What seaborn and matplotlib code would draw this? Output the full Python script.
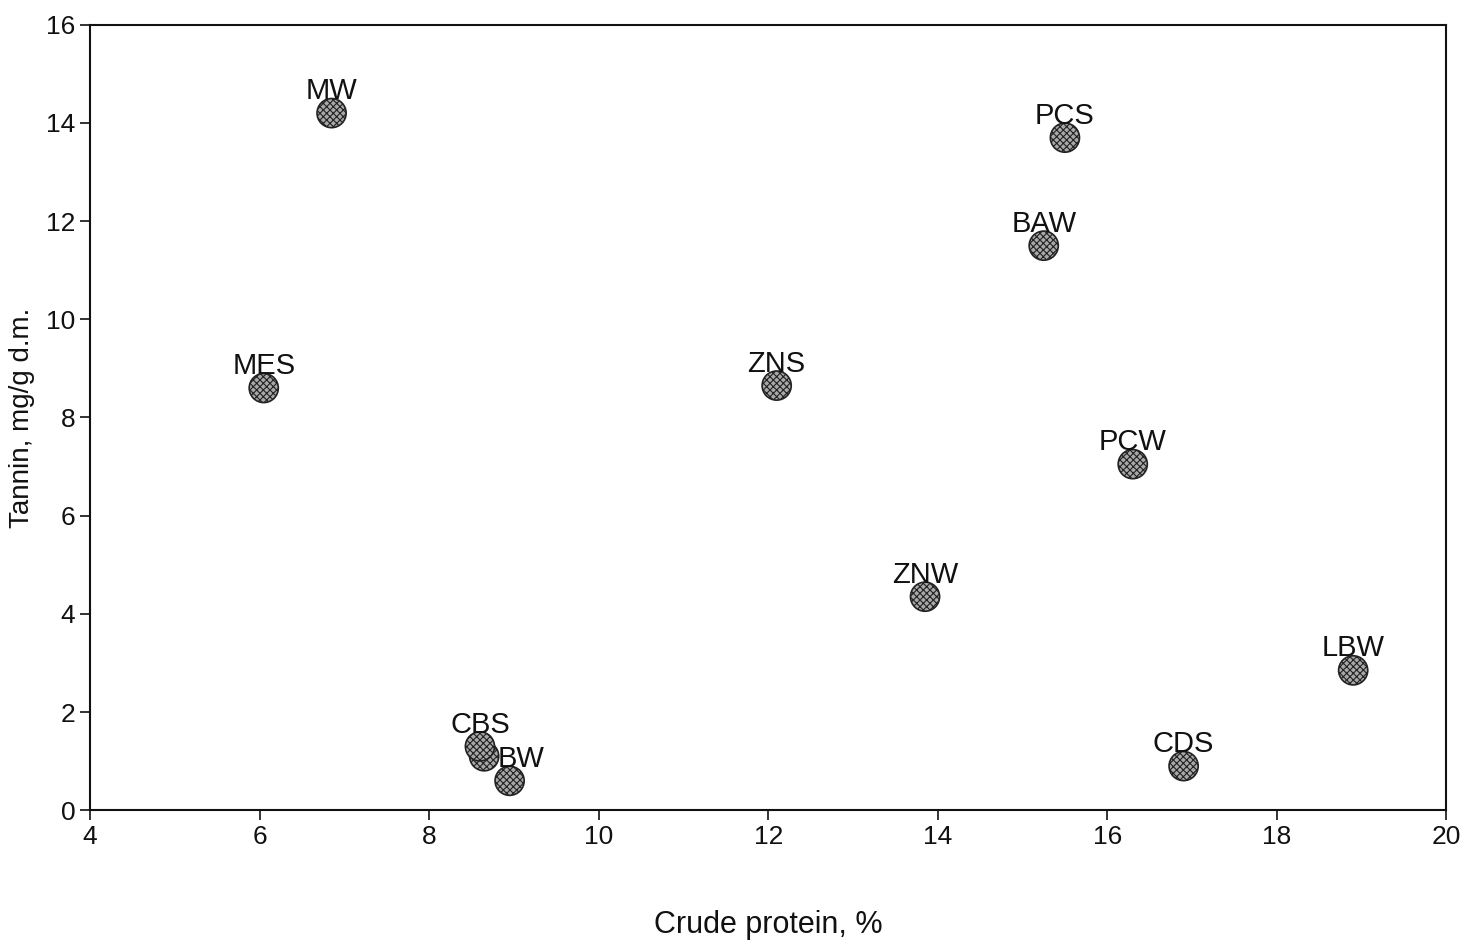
import matplotlib
matplotlib.use("Agg")
import matplotlib.pyplot as plt
import seaborn as sns
import pandas as pd

# Data
names = ["MW", "PCS", "BAW", "MES", "ZNS", "PCW", "ZNW", "LBW", "CBS", "", "BW", "CDS"]
crude_protein = [6.85, 15.5, 15.25, 6.05, 12.1, 16.3, 13.85, 18.9, 8.6, 8.65, 8.95, 16.9]
tannin = [14.2, 13.7, 11.5, 8.6, 8.65, 7.05, 4.35, 2.85, 1.3, 1.1, 0.6, 0.9]
x_ticks = [4, 6, 8, 10, 12, 14, 16, 18, 20]
y_ticks = [0, 2, 4, 6, 8, 10, 12, 14, 16]

df = pd.DataFrame({"name": names, "cp": crude_protein, "tannin": tannin})

sns.set_theme(style="white")
plt.rcParams["font.family"] = ["Liberation Sans", "DejaVu Sans"]
plt.rcParams["hatch.color"] = "#333333"
plt.rcParams["hatch.linewidth"] = 0.8

fig = plt.figure(figsize=(14.82, 9.51), dpi=100)
ax = fig.add_axes([0.0607, 0.148, 0.9153, 0.826])

# draw the hidden point first so CBS lies on top
order = [9] + [i for i in range(len(names)) if i != 9]
df_o = df.iloc[order]
sns.scatterplot(data=df_o, x="cp", y="tannin", ax=ax, s=440, color="#a8a8a8",
                edgecolor="#222222", linewidth=1.2, zorder=3, legend=False)
for coll in ax.collections:
    coll.set_hatch("xxxxx")

for n, xv, yv in zip(names, crude_protein, tannin):
    if not n:
        continue
    dx = 8 if n == "BW" else 0
    ax.annotate(n, (xv, yv), xytext=(dx, 10), textcoords="offset points",
                ha="center", va="baseline", fontsize=21, color="#111111", zorder=5)

ax.set_xlim(4, 20)
ax.set_ylim(0, 16)
ax.set_xticks(x_ticks)
ax.set_yticks(y_ticks)
ax.tick_params(axis="both", direction="out", length=7, width=1.2, labelsize=19,
               colors="#111111", left=True, bottom=True)
for sp in ax.spines.values():
    sp.set_color("#111111")
    sp.set_linewidth(1.5)

ax.set_xlabel("Crude protein, %", fontsize=22, labelpad=44, color="#111111")
ax.set_ylabel("Tannin, mg/g d.m.", fontsize=20, labelpad=8, color="#111111")

fig.savefig("out.png", dpi=100, facecolor="white")
